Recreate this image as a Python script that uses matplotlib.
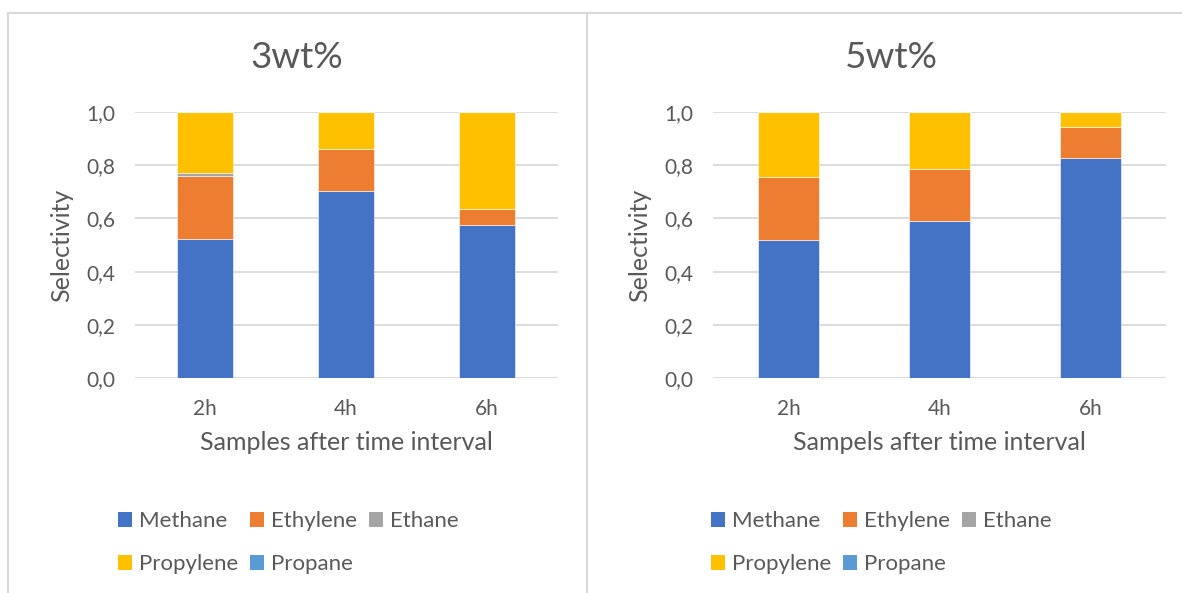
import numpy as np
import matplotlib.pyplot as plt
from matplotlib.patches import Patch
from matplotlib.lines import Line2D

plt.rcParams['font.family'] = ['Lato', 'DejaVu Sans']

# data
times = ["2h", "4h", "6h"]
species = ["Methane", "Ethylene", "Ethane", "Propylene", "Propane"]
colors = ["#4472C4", "#ED7D31", "#A5A5A5", "#FFC000", "#5B9BD5"]

sel_3wt = {
    "Methane":   [0.521, 0.702, 0.574],
    "Ethylene":  [0.239, 0.160, 0.062],
    "Ethane":    [0.011, 0.000, 0.000],
    "Propylene": [0.229, 0.138, 0.364],
    "Propane":   [0.000, 0.000, 0.000],
}
sel_5wt = {
    "Methane":   [0.517, 0.591, 0.827],
    "Ethylene":  [0.239, 0.195, 0.118],
    "Ethane":    [0.000, 0.000, 0.000],
    "Propylene": [0.244, 0.214, 0.055],
    "Propane":   [0.000, 0.000, 0.000],
}

txt = "#595959"
grid = "#D9D9D9"
W, H = 1182, 593

fig = plt.figure(figsize=(W/100, H/100), dpi=100)

def frac(x0, y0, x1, y1):
    # pixel box -> figure fraction rect
    return [x0/W, 1-y1/H, (x1-x0)/W, (y1-y0)/H]

def panel(rect, data, title, xlabel, title_x, ylab_x, leg_x):
    ax = fig.add_axes(rect)
    x = np.arange(len(times))
    bottom = np.zeros(len(times))
    for sp, c in zip(species, colors):
        v = np.array(data[sp])
        ax.bar(x, v, 0.4, bottom=bottom, color=c, edgecolor="white",
               linewidth=0.4, zorder=3)
        bottom += v
    ax.set_xlim(-0.5, len(times)-0.5)
    ax.set_ylim(0, 1.0)
    ax.set_yticks(np.arange(0, 1.01, 0.2))
    ax.set_yticklabels([f"{t:.1f}".replace(".", ",") for t in np.arange(0, 1.01, 0.2)])
    ax.set_xticks(x)
    ax.set_xticklabels(times)
    ax.grid(axis="y", color=grid, linewidth=1.3, zorder=0)
    for s in ax.spines.values():
        s.set_visible(False)
    ax.tick_params(length=0, labelsize=15, labelcolor=txt, pad=14)
    ax.tick_params(axis="x", pad=15)
    ax.set_xlabel(xlabel, fontsize=18, color=txt, labelpad=9)
    fig.text(ylab_x/W, 1-245/H, "Selectivity", rotation=90, fontsize=18,
             color=txt, ha="center", va="center")
    fig.text(title_x/W, 1-57/H, title, fontsize=26.5, color=txt,
             ha="center", va="center")
    hs = [Patch(facecolor=c, edgecolor="none") for c in colors]
    order = [0, 3, 1, 4, 2]
    fig.legend([hs[i] for i in order], [species[i] for i in order],
               ncol=3, loc="upper left", bbox_to_anchor=(leg_x/W, 1-500/H),
               frameon=False, fontsize=16, labelcolor=txt,
               handlelength=0.63, handleheight=0.63, handletextpad=0.3,
               columnspacing=0.55, labelspacing=1.05, borderpad=0)
    return ax

panel(frac(134.5, 112, 557.5, 378), sel_3wt, "3wt%",
      "Samples after time interval", 297, 62, 107)
panel(frac(713, 112, 1166, 378), sel_5wt, "5wt%",
      "Sampels after time interval", 891, 640, 700)

# chart frames
fig.add_artist(Line2D([8/W, 1], [1-13/H, 1-13/H], color=grid, lw=1.5))
fig.add_artist(Line2D([8/W, 8/W], [0, 1-13/H], color=grid, lw=1.5))
fig.add_artist(Line2D([587/W, 587/W], [0, 1-13/H], color=grid, lw=1.5))

fig.savefig("out.png", dpi=100)
